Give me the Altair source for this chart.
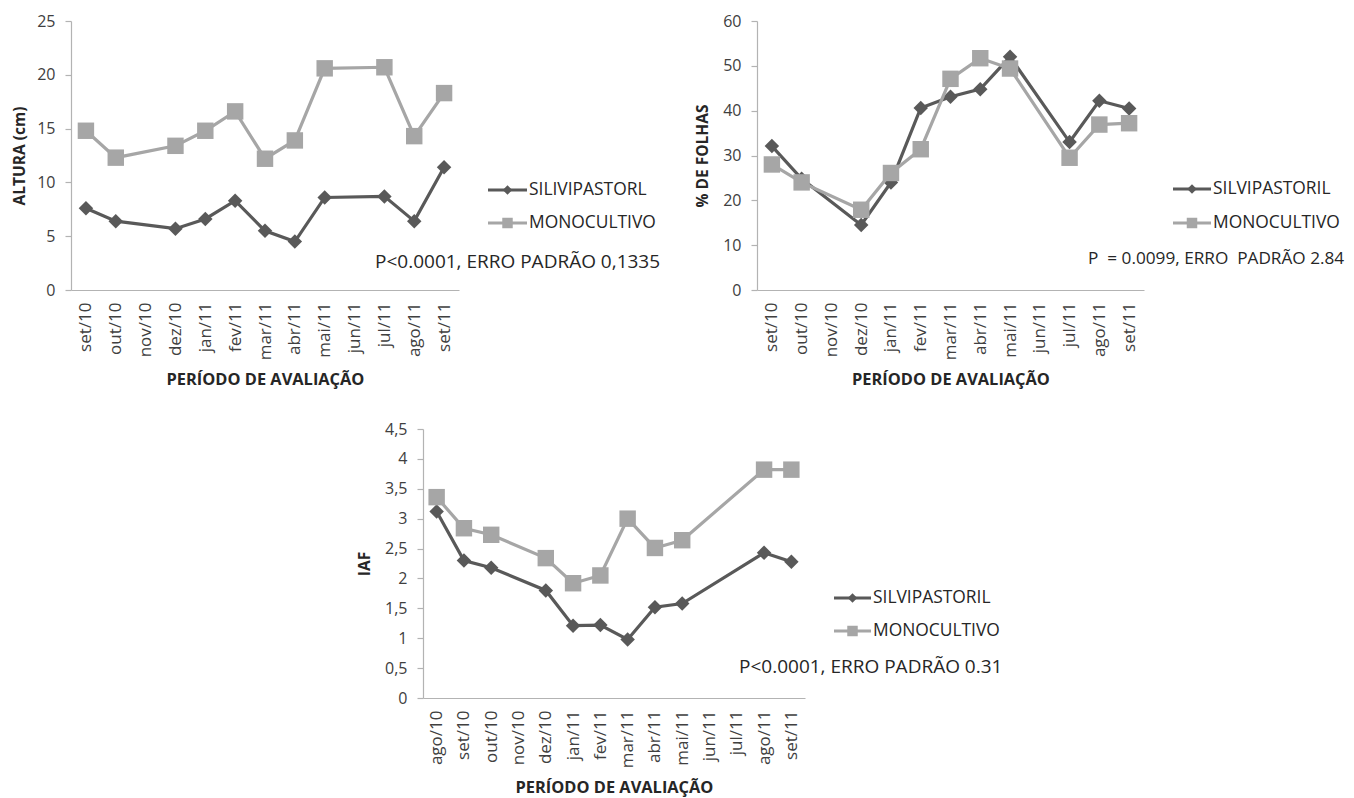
import altair as alt
import pandas as pd

FONT = "Open Sans"
DARK = "#595959"
LIGHT = "#a6a6a6"
AXIS_GRAY = "#b3b3b3"
TEXT = "#262626"

# Months evaluated in each panel (gaps are months without sampling)
MESES_A = ["set/10", "out/10", "nov/10", "dez/10", "jan/11", "fev/11", "mar/11",
           "abr/11", "mai/11", "jun/11", "jul/11", "ago/11", "set/11"]
MESES_B = ["ago/10", "set/10", "out/10", "nov/10", "dez/10", "jan/11", "fev/11",
           "mar/11", "abr/11", "mai/11", "jun/11", "jul/11", "ago/11", "set/11"]

# Plant height (cm)
ALTURA_SILVI = [7.6, 6.4, None, 5.7, 6.6, 8.3, 5.5, 4.5, 8.6, None, 8.7, 6.4, 11.4]
ALTURA_MONO = [14.8, 12.3, None, 13.4, 14.8, 16.6, 12.2, 13.9, 20.6, None, 20.7, 14.3, 18.3]

# Leaf percentage
FOLHAS_SILVI = [32.1, 24.8, None, 14.5, 24.0, 40.6, 43.1, 44.8, 52.0, None, 33.0, 42.2, 40.5]
FOLHAS_MONO = [28.0, 24.0, None, 17.9, 26.1, 31.4, 47.1, 51.7, 49.4, None, 29.5, 36.9, 37.2]

# Leaf area index
IAF_SILVI = [3.12, 2.30, 2.18, None, 1.80, 1.21, 1.22, 0.98, 1.52, 1.58, None, None, 2.43, 2.28]
IAF_MONO = [3.36, 2.84, 2.73, None, 2.34, 1.92, 2.05, 3.00, 2.51, 2.64, None, None, 3.82, 3.82]

X_TITLE = "PERÍODO DE AVALIAÇÃO"


def frame(meses, valores):
    df = pd.DataFrame({"mes": meses, "valor": valores})
    return df.dropna()


def painel(meses, silvi, mono, nome_silvi, titulo_y, dominio_y, ticks_y,
           nota, largura, leg, nota_pos, nota_size=19, comma=False, title_pad=10):
    x = alt.X(
        "mes:O",
        sort=meses,
        scale=alt.Scale(type="point", domain=meses, padding=0.5),
        axis=alt.Axis(
            title=X_TITLE, labelAngle=-90, ticks=False, tickSize=0,
            labelPadding=12, titlePadding=12, labelFontSize=17,
            titleFontSize=16.4, domainColor=AXIS_GRAY, domainWidth=1.2,
        ),
    )
    axis_y = dict(
        title=titulo_y, values=ticks_y, tickSize=6, labelPadding=10,
        titlePadding=title_pad, labelFontSize=16, titleFontSize=15.5,
        domainColor=AXIS_GRAY, tickColor=AXIS_GRAY, domainWidth=1.2,
        tickWidth=1.2, grid=False,
    )
    if comma:
        axis_y["labelExpr"] = "replace(format(datum.value, '.1~f'), '.', ',')"
    y = alt.Y("valor:Q", scale=alt.Scale(domain=dominio_y, nice=False, zero=True),
              axis=alt.Axis(**axis_y))

    layers = []
    for valores, cor, forma, tam in ((silvi, DARK, "diamond", 210),
                                     (mono, LIGHT, "square", 270)):
        base = alt.Chart(frame(meses, valores)).encode(x=x, y=y)
        layers.append(base.mark_line(color=cor, strokeWidth=3.2))
        layers.append(base.mark_point(shape=forma, filled=True, opacity=1,
                                      color=cor, size=tam))

    # Legend drawn beside the plot
    x0, x1, xt, ys = leg
    um = alt.Data(values=[{"k": 0}])
    for (nome, cor, forma, tam), yy in zip(
            ((nome_silvi, DARK, "diamond", 90), ("MONOCULTIVO", LIGHT, "square", 110)), ys):
        layers.append(alt.Chart(um).mark_rule(color=cor, strokeWidth=3).encode(
            x=alt.value(x0), x2=alt.value(x1), y=alt.value(yy)))
        layers.append(alt.Chart(um).mark_point(shape=forma, filled=True, opacity=1,
                                               color=cor, size=tam).encode(
            x=alt.value((x0 + x1) / 2), y=alt.value(yy)))
        layers.append(alt.Chart(um).mark_text(
            text=nome, align="left", baseline="middle", font=FONT,
            fontSize=17.4, color=TEXT).encode(x=alt.value(xt), y=alt.value(yy)))

    layers.append(alt.Chart(um).mark_text(
        text=nota, align="left", baseline="middle", font=FONT,
        fontSize=nota_size, color=TEXT).encode(
        x=alt.value(nota_pos[0]), y=alt.value(nota_pos[1])))

    return alt.layer(*layers).properties(width=largura, height=269)


c1 = painel(MESES_A, ALTURA_SILVI, ALTURA_MONO, "SILIVIPASTORL", "ALTURA (cm)",
            [0, 25], [0, 5, 10, 15, 20, 25], "P<0.0001, ERRO PADRÃO 0,1335", 388,
            (417, 456, 458, (169, 202)), (304, 241), title_pad=9)
c2 = painel(MESES_A, FOLHAS_SILVI, FOLHAS_MONO, "SILVIPASTORIL", "% DE FOLHAS",
            [0, 60], [0, 10, 20, 30, 40, 50, 60],
            "P\u00a0 = 0.0099, ERRO\u00a0 PADRÃO 2.84", 387,
            (416, 454, 456, (168, 202)), (331, 237.5), nota_size=17.2, title_pad=12)
c3 = painel(MESES_B, IAF_SILVI, IAF_MONO, "SILVIPASTORIL", "IAF",
            [0, 4.5], [0, 0.5, 1, 1.5, 2, 2.5, 3, 3.5, 4, 4.5],
            "P<0.0001, ERRO PADRÃO 0.31", 382,
            (411, 448, 450, (169, 202)), (316, 238), comma=True, title_pad=12)

espaco = alt.Chart(alt.Data(values=[{"k": 0}])).mark_point(opacity=0).encode(
    x=alt.value(0), y=alt.value(0)).properties(width=352, height=1)

topo = alt.hconcat(c1, c2, spacing=298, bounds="flush")
base = alt.hconcat(espaco, c3, spacing=0, bounds="flush")

chart = alt.vconcat(topo, base, spacing=32).properties(
    padding={"left": 12, "top": 13, "right": 5, "bottom": 5},
    background="white",
).configure_view(stroke=None).configure_axis(
    labelFont=FONT, titleFont=FONT, labelColor="#404040", titleColor=TEXT,
    titleFontWeight="bold", grid=False,
)

chart.save("out.html", embed_options={"renderer": "svg", "actions": False})
